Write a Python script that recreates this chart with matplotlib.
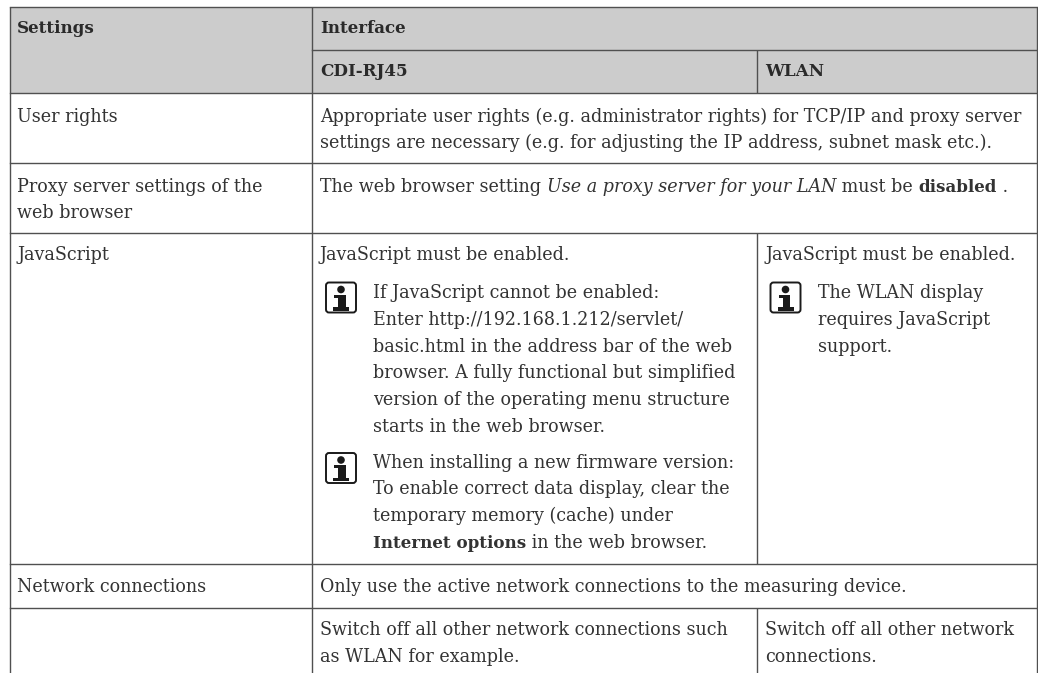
import matplotlib
matplotlib.use("Agg")
import matplotlib.pyplot as plt
from matplotlib.patches import Rectangle, FancyBboxPatch, Circle

W, H = 1038, 673
FONT = "DejaVu Serif"
SIZE = 12.62
BOLD_SIZE = 12.1
INK = "#333333"
RULE = "#505050"
HEAD = "#cccccc"
ICON = "#1a1a1a"

# grid geometry
X_LEFT, X_C2, X_C3, X_RIGHT = 9.5, 311.5, 756.5, 1037
Y_TOP, Y_HEAD1, Y_HEAD2, Y_R1, Y_R2, Y_R3, Y_R4 = 6.5, 50, 92.5, 163, 232.5, 563.5, 607.5

header_cells = [
    (17, 33, "Settings"), (320, 33, "Interface"),
    (320, 76, "CDI-RJ45"), (765, 76, "WLAN"),
]
settings_col = [
    (17, 121.5, "User rights"),
    (17, 191.5, "Proxy server settings of the"),
    (17, 218, "web browser"),
    (17, 260.5, "JavaScript"),
    (17, 591.5, "Network connections"),
]
interface_lines = [
    (320, 121.5, "Appropriate user rights (e.g. administrator rights) for TCP/IP and proxy server"),
    (320, 148, "settings are necessary (e.g. for adjusting the IP address, subnet mask etc.)."),
    (320, 260.5, "JavaScript must be enabled."),
    (373, 298.5, "If JavaScript cannot be enabled:"),
    (373, 325, "Enter http://192.168.1.212/servlet/"),
    (373, 351.5, "basic.html in the address bar of the web"),
    (373, 378, "browser. A fully functional but simplified"),
    (373, 405, "version of the operating menu structure"),
    (373, 431.5, "starts in the web browser."),
    (373, 468, "When installing a new firmware version:"),
    (373, 494.5, "To enable correct data display, clear the"),
    (373, 521, "temporary memory (cache) under"),
    (320, 591.5, "Only use the active network connections to the measuring device."),
    (320, 635, "Switch off all other network connections such"),
    (320, 661.5, "as WLAN for example."),
    (765, 260.5, "JavaScript must be enabled."),
    (818, 298.5, "The WLAN display"),
    (818, 325, "requires JavaScript"),
    (818, 351.5, "support."),
    (765, 635, "Switch off all other network"),
    (765, 661.5, "connections."),
]
mixed_lines = [
    (320, 191.5, [("The web browser setting ", "normal", "normal"),
                  ("Use a proxy server for your LAN", "italic", "normal"),
                  (" must be ", "normal", "normal"),
                  ("disabled", "normal", "bold"),
                  (" .", "normal", "normal")]),
    (373, 547.5, [("Internet options", "normal", "bold"),
                  (" in the web browser.", "normal", "normal")]),
]
icons = [(325, 281.5), (325, 452), (769.5, 281.5)]

fig = plt.figure(figsize=(W / 100, H / 100), dpi=100, facecolor="white")
ax = fig.add_axes([0, 0, 1, 1])
ax.set_xlim(0, W)
ax.set_ylim(H, 0)
ax.axis("off")

ax.add_patch(Rectangle((X_LEFT, Y_TOP), X_RIGHT - X_LEFT, Y_HEAD2 - Y_TOP,
                       facecolor=HEAD, edgecolor="none", zorder=0))

def hline(y, x0=X_LEFT, x1=X_RIGHT):
    ax.plot([x0, x1], [y, y], color=RULE, lw=1.0, solid_capstyle="projecting", zorder=1)

def vline(x, y0, y1):
    ax.plot([x, x], [y0, y1], color=RULE, lw=1.0, solid_capstyle="butt", zorder=1)

hline(Y_TOP); hline(Y_HEAD2); hline(Y_R1); hline(Y_R2); hline(Y_R3); hline(Y_R4)
hline(Y_HEAD1, X_C2, X_RIGHT)
vline(X_LEFT, Y_TOP, H)
vline(X_RIGHT, Y_TOP, H)
vline(X_C2, Y_TOP, H)
vline(X_C3, Y_HEAD1, Y_HEAD2)
vline(X_C3, Y_R2, Y_R3)
vline(X_C3, Y_R4, H)

def put(x, y, s, style="normal", weight="normal"):
    size = BOLD_SIZE if weight == "bold" else SIZE
    return ax.text(x, y, s, family=FONT, size=size, style=style, weight=weight,
                   color=INK, va="baseline", ha="left")

for x, y, s in header_cells:
    ax.text(x, y, s, family=FONT, size=BOLD_SIZE, weight="bold", color="#2a2a2a", va="baseline")
for x, y, s in settings_col + interface_lines:
    put(x, y, s)

r = fig.canvas.get_renderer()
for x, y, runs in mixed_lines:
    cx = x
    for s, st, wt in runs:
        t = put(cx, y, s.replace(" ", "\u00a0"), st, wt)
        cx = t.get_window_extent(r).x1

for x, y in icons:
    ax.add_patch(FancyBboxPatch((x + 1, y + 1), 30, 30, boxstyle="round,pad=0,rounding_size=3",
                                facecolor="white", edgecolor=ICON, lw=1.4, zorder=3))
    ax.add_patch(Circle((x + 16, y + 8), 3.8, color=ICON, lw=0, zorder=4))
    ax.add_patch(Rectangle((x + 9, y + 13), 11.5, 3, color=ICON, lw=0, zorder=4))
    ax.add_patch(Rectangle((x + 13, y + 13), 7.5, 15, color=ICON, lw=0, zorder=4))
    ax.add_patch(Rectangle((x + 8, y + 25.5), 16, 3.5, color=ICON, lw=0, zorder=4))

fig.savefig("out.png", dpi=100)
